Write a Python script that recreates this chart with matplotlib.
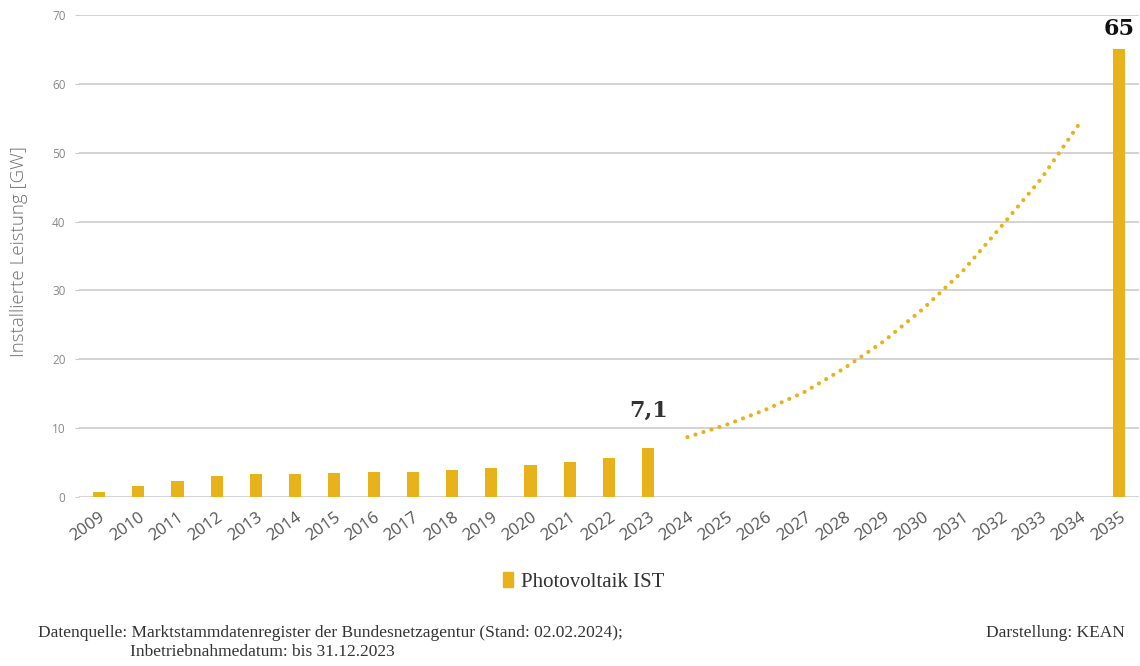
import matplotlib
matplotlib.use("Agg")
import matplotlib.pyplot as plt
from matplotlib.patches import Patch

years = [str(y) for y in range(2009, 2036)]
ist_years = [str(y) for y in range(2009, 2024)]
ist_values = [0.7, 1.6, 2.3, 3.0, 3.3, 3.4, 3.5, 3.6, 3.7, 3.9, 4.2, 4.6, 5.1, 5.7, 7.1]
target_year = "2035"
target_value = 65
trend_years = [str(y) for y in range(2024, 2035)]
trend_values = [8.7, 10.5, 12.7, 15.3, 18.7, 22.6, 27.3, 32.7, 39.3, 46.1, 54.3]
y_ticks = [0, 10, 20, 30, 40, 50, 60, 70]

GOLD = "#E8B21A"
W, H = 1140, 666
fig = plt.figure(figsize=(W / 100, H / 100), dpi=100)
ax = fig.add_axes([79.4 / W, 1 - 497 / H, (1138.6 - 79.4) / W, (497 - 15) / H])

pos = {y: i for i, y in enumerate(years)}
ax.bar([pos[y] for y in ist_years], ist_values, width=0.31, color=GOLD, zorder=3)
ax.bar([pos[target_year]], [target_value], width=0.31, color=GOLD, zorder=3)
ax.plot([pos[y] for y in trend_years], trend_values, color=GOLD, linewidth=3.0,
        linestyle=(0, (0.01, 2.0)), dash_capstyle="round", zorder=4)

ax.set_xlim(-0.5, len(years) - 0.5)
ax.set_ylim(0, 70)
ax.set_yticks(y_ticks)
ax.set_yticklabels([str(v) for v in y_ticks], fontsize=8.5, color="#888888", family="Open Sans")
ax.set_xticks(range(len(years)))
ax.set_xticklabels(years, rotation=35, ha="right", rotation_mode="anchor",
                   fontsize=12, color="#555555", family="Open Sans")
ax.tick_params(axis="x", length=0, pad=9)
ax.tick_params(axis="y", length=3, color="#cccccc", pad=7)
for s in ax.spines.values():
    s.set_visible(False)
ax.grid(axis="y", color="#cccccc", linewidth=1.2, zorder=0)
ax.set_axisbelow(True)

ax.set_ylabel("Installierte Leistung [GW]", fontsize=13.5, color="#707070",
              family="Open Sans", fontweight="light")
ax.yaxis.set_label_coords(-51 / (1138.6 - 79.4), 0.51)

ax.text(pos["2023"], ist_values[-1] + 3.8, "7,1", ha="center", va="bottom",
        fontsize=16, fontweight="bold", color="#333333", family="DejaVu Serif")
ax.text(pos[target_year], target_value + 1.4, "65", ha="center", va="bottom",
        fontsize=16, fontweight="bold", color="#111111", family="DejaVu Serif")

fig.legend(handles=[Patch(color=GOLD, label="Photovoltaik IST")], loc="center",
           bbox_to_anchor=(584 / W, 1 - 582 / H), frameon=False,
           prop={"family": "Liberation Serif", "size": 15}, handlelength=0.45,
           handleheight=0.7, handletextpad=0.4, labelcolor="#333333")

foot = {"family": "Liberation Serif", "size": 12.5, "color": "#333333"}
fig.text(38 / W, 1 - 633 / H, "Datenquelle: Marktstammdatenregister der Bundesnetzagentur (Stand: 02.02.2024);",
         ha="left", va="center", **foot)
fig.text(130 / W, 1 - 652 / H, "Inbetriebnahmedatum: bis 31.12.2023", ha="left", va="center", **foot)
fig.text(1125 / W, 1 - 633 / H, "Darstellung: KEAN", ha="right", va="center", **foot)

fig.savefig("out.png", dpi=100, facecolor="white")
